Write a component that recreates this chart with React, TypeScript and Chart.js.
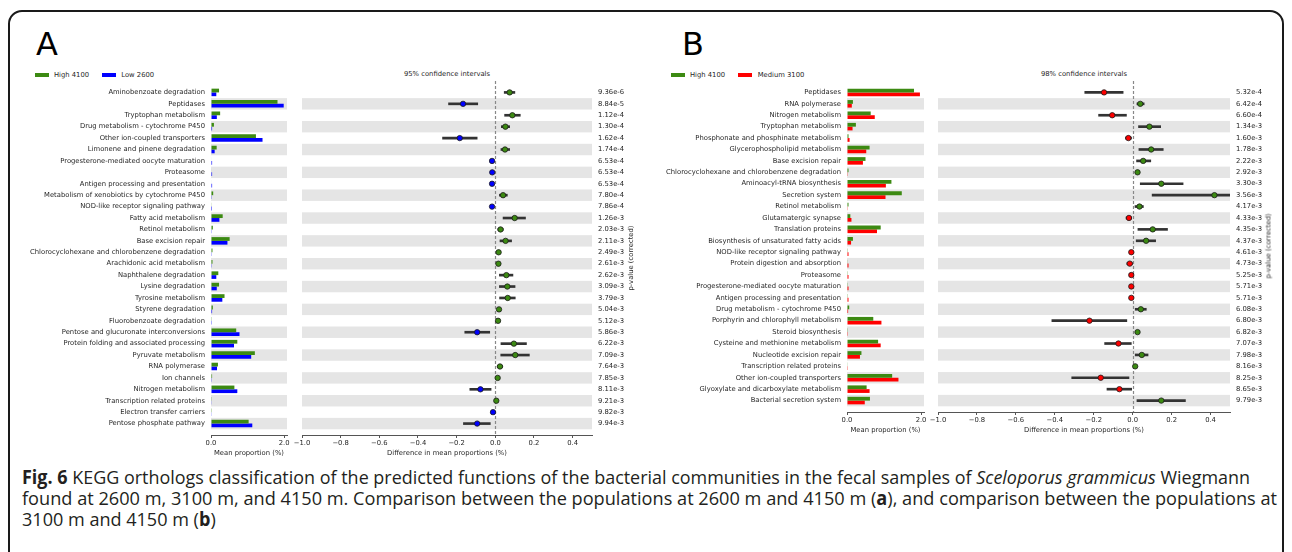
import React, { useEffect, useLayoutEffect, useRef } from 'react';
import { Chart, registerables } from 'chart.js';

Chart.register(...registerables);

// ---------------- Panel A : High 4100 vs Low 2600 ----------------
const categoriesA = [
  'Aminobenzoate degradation', 'Peptidases', 'Tryptophan metabolism', 'Drug metabolism - cytochrome P450',
  'Other ion-coupled transporters', 'Limonene and pinene degradation', 'Progesterone-mediated oocyte maturation',
  'Proteasome', 'Antigen processing and presentation', 'Metabolism of xenobiotics by cytochrome P450',
  'NOD-like receptor signaling pathway', 'Fatty acid metabolism', 'Retinol metabolism', 'Base excision repair',
  'Chlorocyclohexane and chlorobenzene degradation', 'Arachidonic acid metabolism', 'Naphthalene degradation',
  'Lysine degradation', 'Tyrosine metabolism', 'Styrene degradation', 'Fluorobenzoate degradation',
  'Pentose and glucuronate interconversions', 'Protein folding and associated processing', 'Pyruvate metabolism',
  'RNA polymerase', 'Ion channels', 'Nitrogen metabolism', 'Transcription related proteins',
  'Electron transfer carriers', 'Pentose phosphate pathway',
];
const high4100A = [0.22, 1.82, 0.25, 0.08, 1.23, 0.155, 0.013, 0.013, 0.013, 0.06, 0.01, 0.32, 0.05, 0.51, 0.04, 0.04, 0.2, 0.22, 0.37, 0.05, 0.02, 0.69, 0.72, 1.2, 0.19, 0.03, 0.64, 0.02, 0.006, 1.03];
const low2600A = [0.145, 1.99, 0.16, 0.03, 1.41, 0.1, 0.03, 0.03, 0.03, 0.02, 0.027, 0.23, 0.02, 0.45, 0.02, 0.02, 0.145, 0.158, 0.31, 0.03, 0.005, 0.78, 0.63, 1.1, 0.165, 0.02, 0.72, 0.01, 0.018, 1.13];
const diffA = [0.074, -0.167, 0.088, 0.052, -0.184, 0.05, -0.017, -0.016, -0.017, 0.04, -0.017, 0.1, 0.027, 0.053, 0.017, 0.016, 0.057, 0.062, 0.064, 0.019, 0.014, -0.094, 0.096, 0.103, 0.024, 0.012, -0.077, 0.005, -0.012, -0.094];
const ciLowA = [0.046, -0.242, 0.048, 0.031, -0.273, 0.029, -0.022, -0.021, -0.022, 0.021, -0.022, 0.04, 0.013, 0.024, 0.012, 0.011, 0.021, 0.021, 0.022, 0.014, 0.009, -0.158, 0.029, 0.028, 0.01, 0.007, -0.132, 0.0, -0.017, -0.165];
const ciHighA = [0.101, -0.091, 0.129, 0.074, -0.094, 0.074, -0.012, -0.011, -0.012, 0.062, -0.012, 0.156, 0.041, 0.084, 0.022, 0.021, 0.091, 0.102, 0.103, 0.024, 0.019, -0.029, 0.161, 0.176, 0.038, 0.017, -0.022, 0.01, -0.007, -0.026];
const pValuesA = ['9.36e-6', '8.84e-5', '1.12e-4', '1.30e-4', '1.62e-4', '1.74e-4', '6.53e-4', '6.53e-4', '6.53e-4', '7.80e-4', '7.86e-4', '1.26e-3', '2.03e-3', '2.11e-3', '2.49e-3', '2.61e-3', '2.62e-3', '3.09e-3', '3.79e-3', '5.04e-3', '5.12e-3', '5.86e-3', '6.22e-3', '7.09e-3', '7.64e-3', '7.85e-3', '8.11e-3', '9.21e-3', '9.82e-3', '9.94e-3'];

// ---------------- Panel B : High 4100 vs Medium 3100 ----------------
const categoriesB = [
  'Peptidases', 'RNA polymerase', 'Nitrogen metabolism', 'Tryptophan metabolism',
  'Phosphonate and phosphinate metabolism', 'Glycerophospholipid metabolism', 'Base excision repair',
  'Chlorocyclohexane and chlorobenzene degradation', 'Aminoacyl-tRNA biosynthesis', 'Secretion system',
  'Retinol metabolism', 'Glutamatergic synapse', 'Translation proteins', 'Biosynthesis of unsaturated fatty acids',
  'NOD-like receptor signaling pathway', 'Protein digestion and absorption', 'Proteasome',
  'Progesterone-mediated oocyte maturation', 'Antigen processing and presentation', 'Drug metabolism - cytochrome P450',
  'Porphyrin and chlorophyll metabolism', 'Steroid biosynthesis', 'Cysteine and methionine metabolism',
  'Nucleotide excision repair', 'Transcription related proteins', 'Other ion-coupled transporters',
  'Glyoxylate and dicarboxylate metabolism', 'Bacterial secretion system',
];
const high4100B = [1.81, 0.16, 0.64, 0.24, 0.04, 0.61, 0.5, 0.04, 1.2, 1.48, 0.04, 0.09, 0.91, 0.16, 0.02, 0.01, 0.02, 0.02, 0.02, 0.06, 0.71, 0.02, 0.84, 0.39, 0.01, 1.22, 0.53, 0.62];
const medium3100B = [1.97, 0.13, 0.75, 0.15, 0.07, 0.52, 0.43, 0.02, 1.05, 1.04, 0.02, 0.12, 0.81, 0.11, 0.04, 0.04, 0.04, 0.04, 0.04, 0.03, 0.93, 0.005, 0.91, 0.35, 0.005, 1.39, 0.61, 0.48];
const diffB = [-0.147, 0.039, -0.105, 0.086, -0.022, 0.095, 0.054, 0.025, 0.147, 0.42, 0.035, -0.019, 0.103, 0.069, -0.007, -0.015, -0.007, -0.007, -0.007, 0.042, -0.222, 0.025, -0.073, 0.047, 0.013, -0.164, -0.068, 0.147];
const ciLowB = [-0.246, 0.022, -0.175, 0.03, -0.037, 0.032, 0.02, 0.015, 0.039, 0.1, 0.012, -0.034, 0.027, 0.018, -0.012, -0.03, -0.012, -0.012, -0.012, 0.013, -0.415, 0.015, -0.144, 0.013, 0.008, -0.313, -0.132, 0.022];
const ciHighB = [-0.049, 0.059, -0.032, 0.144, -0.006, 0.157, 0.093, 0.035, 0.259, 0.74, 0.055, -0.005, 0.179, 0.118, -0.002, -0.001, -0.002, -0.002, -0.002, 0.07, -0.03, 0.035, -0.007, 0.079, 0.018, -0.019, -0.005, 0.271];
const pValuesB = ['5.32e-4', '6.42e-4', '6.60e-4', '1.34e-3', '1.60e-3', '1.78e-3', '2.22e-3', '2.92e-3', '3.30e-3', '3.56e-3', '4.17e-3', '4.33e-3', '4.35e-3', '4.37e-3', '4.61e-3', '4.73e-3', '5.25e-3', '5.71e-3', '5.71e-3', '6.08e-3', '6.80e-3', '6.82e-3', '7.07e-3', '7.98e-3', '8.16e-3', '8.25e-3', '8.65e-3', '9.79e-3'];

// ---------------- Axis ticks ----------------
const proportionTicks = [0.0, 2.0];
const differenceTicks = [-1.0, -0.8, -0.6, -0.4, -0.2, 0.0, 0.2, 0.4];

// ---------------- Styles ----------------
const FAMILY = '"DejaVu Sans", sans-serif';
const FONT = { family: FAMILY, size: 6.8 };
const GREEN = '#3c8a12';
const BLUE = '#0000ff';
const RED = '#ff0000';
const BAND = '#e5e5e5';
const TEXT = '#262626';
const AXIS = '#555555';
const WHISKER = '#333333';
const BAR_MAX = 2.08;
const CI_MIN = -1.0;
const CI_MAX = 0.5;

const fmt = (v: number) => (v < 0 ? '\u2212' : '') + Math.abs(v).toFixed(1);

const guidePlugin = {
  id: 'guides',
  beforeDatasetsDraw(chart: any, _args: any, opts: any) {
    const { ctx, chartArea } = chart;
    const ys = chart.scales.y;
    const xs = chart.scales.x;
    ctx.save();
    ctx.fillStyle = opts.band;
    for (let i = 1; i < opts.rows; i += 2) {
      const t = ys.getPixelForValue(i - 0.5);
      const b = ys.getPixelForValue(i + 0.5);
      ctx.fillRect(chartArea.left, t, chartArea.right - chartArea.left, b - t);
    }
    if (opts.zero) {
      const x0 = Math.round(xs.getPixelForValue(0)) + 0.5;
      ctx.strokeStyle = '#888888';
      ctx.lineWidth = 1.2;
      ctx.setLineDash([3, 2]);
      ctx.beginPath();
      ctx.moveTo(x0, chartArea.top);
      ctx.lineTo(x0, chartArea.bottom);
      ctx.stroke();
    }
    ctx.restore();
  },
};

function valueAxis(min: number, max: number, ticks: number[], title: string) {
  return {
    type: 'linear',
    position: 'bottom',
    min,
    max,
    offset: false,
    afterBuildTicks: (s: any) => {
      s.ticks = ticks.map((v) => ({ value: v }));
    },
    afterFit: (s: any) => {
      s.height = 22;
      s.paddingLeft = 0;
      s.paddingRight = 0;
    },
    ticks: { autoSkip: false, maxRotation: 0, padding: 1, font: FONT, color: TEXT, callback: (v: any) => fmt(Number(v)) },
    grid: { display: true, drawOnChartArea: false, drawTicks: true, tickLength: 3, color: AXIS, lineWidth: 1 },
    border: { display: true, color: AXIS, width: 1 },
    title: { display: true, text: title, font: FONT, color: TEXT, padding: 0 },
  };
}

function rowAxis(labels: string[], position: string, width: number) {
  return {
    type: 'linear',
    position,
    reverse: true,
    offset: false,
    min: -1,
    max: labels.length,
    afterBuildTicks: (s: any) => {
      s.ticks = labels.map((_, i) => ({ value: i }));
    },
    afterFit: (s: any) => {
      s.width = width;
      s.paddingTop = 0;
      s.paddingBottom = 0;
    },
    ticks: { autoSkip: false, padding: 6, font: FONT, color: TEXT, callback: (v: any) => labels[Number(v)] },
    grid: { display: false, drawTicks: false, offset: false },
    border: { display: false },
  };
}

function barConfig(cats: string[], s1: number[], s2: number[], c1: string, c2: string, yWidth: number, padRight: number) {
  return {
    type: 'bar',
    data: {
      datasets: [
        { data: s1.map((v, i) => ({ x: v, y: i })), backgroundColor: c1, borderWidth: 0 },
        { data: s2.map((v, i) => ({ x: v, y: i })), backgroundColor: c2, borderWidth: 0 },
      ],
    },
    plugins: [guidePlugin],
    options: {
      indexAxis: 'y',
      animation: false,
      responsive: false,
      maintainAspectRatio: false,
      events: [],
      layout: { padding: { left: 0, right: padRight, top: 0, bottom: 0 } },
      datasets: { bar: { categoryPercentage: 0.66, barPercentage: 1 } },
      plugins: {
        legend: { display: false },
        tooltip: { enabled: false },
        guides: { rows: cats.length, band: BAND, zero: false },
      },
      scales: {
        x: valueAxis(0, BAR_MAX, proportionTicks, 'Mean proportion (%)'),
        y: rowAxis(cats, 'left', yWidth),
      },
    },
  };
}

function ciConfig(diff: number[], lo: number[], hi: number[], pvals: string[], negColor: string, padLeft: number) {
  return {
    type: 'bar',
    data: {
      datasets: [
        {
          type: 'scatter',
          data: diff.map((d, i) => ({ x: d, y: i })),
          pointRadius: 2.7,
          pointBackgroundColor: diff.map((d) => (d > 0 ? GREEN : negColor)),
          pointBorderColor: '#1a1a1a',
          pointBorderWidth: 0.8,
          order: 0,
        },
        {
          type: 'bar',
          data: lo.map((l, i) => ({ x: [l, hi[i]], y: i })),
          backgroundColor: WHISKER,
          borderWidth: 0,
          barThickness: 2,
          order: 1,
        },
      ],
    },
    plugins: [guidePlugin],
    options: {
      indexAxis: 'y',
      animation: false,
      responsive: false,
      maintainAspectRatio: false,
      events: [],
      layout: { padding: { left: padLeft, right: 0, top: 0, bottom: 0 }, autoPadding: false },
      plugins: {
        legend: { display: false },
        tooltip: { enabled: false },
        guides: { rows: diff.length, band: BAND, zero: true },
      },
      scales: {
        x: valueAxis(CI_MIN, CI_MAX, differenceTicks, 'Difference in mean proportions (%)'),
        y: rowAxis(pvals, 'right', 38),
      },
    },
  };
}

function ChartCanvas({ left, top, width, height, config }: any) {
  const ref = useRef<HTMLCanvasElement>(null);
  useEffect(() => {
    const chart = new Chart(ref.current as HTMLCanvasElement, config as any);
    return () => chart.destroy();
  }, []);
  return (
    <canvas ref={ref} width={width} height={height} style={{ position: 'absolute', left, top, width, height }} />
  );
}

const small: React.CSSProperties = {
  position: 'absolute',
  fontFamily: FAMILY,
  fontSize: 6.8,
  lineHeight: '7px',
  color: TEXT,
  whiteSpace: 'nowrap',
};

function Swatch({ left, color }: { left: number; color: string }) {
  return <div style={{ position: 'absolute', left, top: 73.3, width: 14, height: 4, background: color }} />;
}

function RotLabel({ cx, cy }: { cx: number; cy: number }) {
  return (
    <div style={{ ...small, left: cx, top: cy, transform: 'translate(-50%, -50%) rotate(-90deg)' }}>
      p-value (corrected)
    </div>
  );
}

const captionTargets = [1228, 1255, 226];

export default function App() {
  const capRefs = useRef<(HTMLDivElement | null)[]>([]);

  useLayoutEffect(() => {
    const fit = () => {
      const els = capRefs.current.filter(Boolean) as HTMLDivElement[];
      if (els.length < 3) return;
      els.forEach((el) => (el.style.transform = 'none'));
      const s = els.map((el, i) => captionTargets[i] / el.getBoundingClientRect().width);
      const s3 = (s[0] + s[1]) / 2;
      els[0].style.transform = `scaleX(${s[0]})`;
      els[1].style.transform = `scaleX(${s[1]})`;
      els[2].style.transform = `scaleX(${s3})`;
    };
    fit();
    const f: any = (document as any).fonts;
    if (f && f.ready) f.ready.then(fit);
  }, []);

  const capLine: React.CSSProperties = {
    position: 'absolute',
    left: 22,
    whiteSpace: 'nowrap',
    fontFamily: '"Open Sans", sans-serif',
    fontSize: 19,
    lineHeight: '20px',
    color: '#231f20',
    transformOrigin: '0 50%',
  };

  return (
    <div style={{ position: 'absolute', left: 0, top: 0, width: 1292, height: 552, background: '#fff', overflow: 'hidden' }}>
      <div
        style={{
          position: 'absolute', left: 8, top: 9.5, width: 1276, height: 600,
          border: '2px solid #1a1a1a', borderRadius: 14, boxSizing: 'border-box',
        }}
      />

      {/* Panel letters */}
      <div style={{ position: 'absolute', left: 36, top: 28, fontFamily: FAMILY, fontSize: 32, lineHeight: '32px', color: '#000' }}>A</div>
      <div style={{ position: 'absolute', left: 682, top: 28, fontFamily: FAMILY, fontSize: 32, lineHeight: '32px', color: '#000' }}>B</div>

      {/* Legends */}
      <Swatch left={35} color={GREEN} />
      <div style={{ ...small, left: 54, top: 71.6 }}>High 4100</div>
      <Swatch left={102.3} color={BLUE} />
      <div style={{ ...small, left: 121.3, top: 71.6 }}>Low 2600</div>

      <Swatch left={670.7} color={GREEN} />
      <div style={{ ...small, left: 690, top: 71.6 }}>High 4100</div>
      <Swatch left={738.3} color={RED} />
      <div style={{ ...small, left: 757.7, top: 71.6 }}>Medium 3100</div>

      {/* CI titles */}
      <div style={{ ...small, left: 347, width: 200, textAlign: 'center', top: 70.5 }}>95% confidence intervals</div>
      <div style={{ ...small, left: 984, width: 200, textAlign: 'center', top: 70.5 }}>98% confidence intervals</div>

      {/* Charts panel A */}
      <ChartCanvas left={0} top={81} width={292} height={376}
        config={barConfig(categoriesA, high4100A, low2600A, GREEN, BLUE, 211, 5)} />
      <ChartCanvas left={292} top={81} width={338} height={376}
        config={ciConfig(diffA, ciLowA, ciHighA, pValuesA, BLUE, 10)} />
      <RotLabel cx={631} cy={258} />

      {/* Charts panel B */}
      <ChartCanvas left={640} top={81} width={290} height={353}
        config={barConfig(categoriesB, high4100B, medium3100B, GREEN, RED, 207, 6)} />
      <ChartCanvas left={930} top={81} width={338} height={353}
        config={ciConfig(diffB, ciLowB, ciHighB, pValuesB, RED, 8)} />
      <RotLabel cx={1269} cy={246} />

      {/* Caption */}
      <div ref={(el) => { capRefs.current[0] = el; }} style={{ ...capLine, top: 467 }}>
        <b>Fig. 6</b> KEGG orthologs classification of the predicted functions of the bacterial communities in the fecal samples of <i>Sceloporus grammicus</i> Wiegmann
      </div>
      <div ref={(el) => { capRefs.current[1] = el; }} style={{ ...capLine, top: 488 }}>
        found at 2600 m, 3100 m, and 4150 m. Comparison between the populations at 2600 m and 4150 m (<b>a</b>), and comparison between the populations at
      </div>
      <div ref={(el) => { capRefs.current[2] = el; }} style={{ ...capLine, top: 509 }}>
        3100 m and 4150 m (<b>b</b>)
      </div>
    </div>
  );
}
